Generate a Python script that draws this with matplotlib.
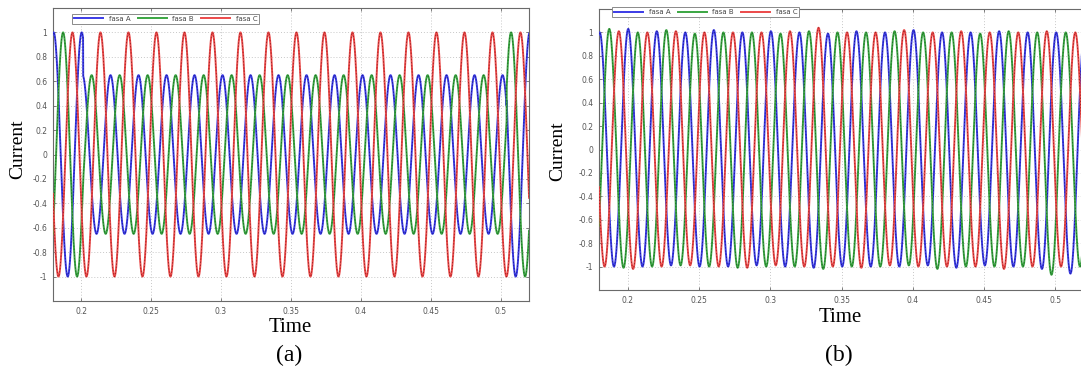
"""Three-phase currents: (a) with fault between 0.2 s and 0.5 s, (b) balanced."""

import numpy as np
import matplotlib.pyplot as plt

# --- data ---
FREQ = 50.0                      # Hz, one cycle = 0.02 s
PHASES = ["A", "B", "C"]
LABELS = ["fasa A", "fasa B", "fasa C"]

# (a): piecewise sinusoid per phase -> segment edges, amplitude and time of a peak
a_edges = [0.175, 0.2015, 0.504, 0.525]
a_amp = {"A": [1.0, 0.65, 1.0], "B": [1.0, 0.65, 1.0], "C": [1.0, 1.0, 1.0]}
a_peak = {"A": [0.1805, 0.2211, 0.1805],
          "B": [0.1872, 0.2076, 0.1872],
          "C": [0.1939, 0.1939, 0.1939]}

# (b): balanced currents, height of each half-cycle lobe (alternating sign)
b_first_lobe = {"A": 0.1805, "B": 0.1772, "C": 0.1739}   # centre of first lobe
b_first_sign = {"A": 1, "B": -1, "C": 1}
b_lobes = {
    "A": [1.00, 1.00, 1.03, 1.00, 1.01, 0.99, 1.00, 1.00, 1.02, 1.00,
          1.00, 0.99, 1.01, 1.00, 1.00, 1.01, 0.99, 1.00, 1.01, 1.00,
          1.00, 1.00, 1.02, 0.99, 1.00, 1.01, 1.00, 0.99, 1.01, 1.00,
          1.00, 1.02, 1.00, 1.06, 1.00],
    "B": [1.00, 1.03, 1.01, 1.00, 1.00, 1.02, 0.99, 0.99, 1.00, 1.00,
          1.01, 1.00, 1.00, 0.99, 1.00, 1.01, 1.02, 1.00, 1.00, 1.00,
          1.00, 1.01, 0.99, 1.00, 1.02, 1.00, 1.00, 0.99, 1.00, 1.01,
          1.00, 1.00, 1.07, 1.00, 1.00, 1.00],
    "C": [1.00, 1.00, 1.01, 1.02, 1.00, 1.00, 1.01, 0.99, 1.00, 1.00,
          1.00, 1.01, 1.00, 0.99, 1.01, 1.00, 1.04, 1.00, 1.00, 1.01,
          1.00, 0.99, 1.02, 1.00, 1.00, 1.00, 1.01, 1.00, 1.00, 1.02,
          1.00, 1.00, 1.01, 1.00, 1.00, 1.00],
}

x_ticks = [0.2, 0.25, 0.3, 0.35, 0.4, 0.45, 0.5]
y_ticks = [-1, -0.8, -0.6, -0.4, -0.2, 0, 0.2, 0.4, 0.6, 0.8, 1]

# --- style ---
COLORS = {"A": "#3b3be6", "B": "#3aa642", "C": "#ec4a4a"}
DARK = {"A": "#16167a", "B": "#1b5a1f", "C": "#8a1c1c"}
GRID = "#c8c8c8"
SPINE = "#6a6a6a"
TICK_TXT = "#555555"
SERIF = ["Liberation Serif", "DejaVu Serif"]

w = 2 * np.pi * FREQ
t = np.linspace(0.176, 0.524, 6000)


def wave_a(ph):
    y = np.zeros_like(t)
    for i in range(len(a_edges) - 1):
        m = (t >= a_edges[i]) & (t < a_edges[i + 1])
        y[m] = a_amp[ph][i] * np.cos(w * (t[m] - a_peak[ph][i]))
    return y


def wave_b(ph):
    half = 0.5 / FREQ
    k = np.floor((t - b_first_lobe[ph] + half / 2) / half).astype(int)
    k = np.clip(k, 0, len(b_lobes[ph]) - 1)
    amps = np.array(b_lobes[ph])[k]
    return np.cos(w * (t - b_first_lobe[ph])) * b_first_sign[ph] * amps


def style_axes(ax):
    ax.set_xlim(0.18, 0.52)
    ax.set_ylim(-1.2, 1.2)
    ax.set_xticks(x_ticks)
    ax.set_yticks(y_ticks)
    ax.set_xticklabels(["%g" % v for v in x_ticks])
    ax.set_yticklabels(["%g" % v for v in y_ticks])
    ax.tick_params(direction="in", length=2.5, width=0.6, colors=SPINE,
                   labelcolor=TICK_TXT, labelsize=5.5, top=True, right=True,
                   pad=4)
    ax.grid(True, color=GRID, linestyle=(0, (1, 2)), linewidth=0.7)
    for s in ax.spines.values():
        s.set_color(SPINE)
        s.set_linewidth(0.8)


def draw(ax, fn):
    handles = []
    for ph, lab in zip(PHASES, LABELS):
        y = fn(ph)
        h, = ax.plot(t, y, color=COLORS[ph], lw=1.4, label=lab, zorder=3)
        ax.plot(t, y, color=DARK[ph], lw=0.5, dashes=(2.0, 2.5), zorder=3)
        handles.append(h)
    return handles


fig = plt.figure(figsize=(10.81, 3.71), dpi=100)
W, H = 1081.0, 371.0
ax_a = fig.add_axes([53 / W, 70 / H, 476 / W, 293 / H])
ax_b = fig.add_axes([599 / W, 81 / H, 485 / W, 281 / H])

for ax, fn, anchor in [(ax_a, wave_a, (0.033, 0.993)), (ax_b, wave_b, (0.02, 1.02))]:
    hs = draw(ax, fn)
    style_axes(ax)
    leg = ax.legend(handles=hs, loc="upper left", bbox_to_anchor=anchor,
                    ncol=3, fontsize=5, handlelength=4.2, handletextpad=0.8,
                    columnspacing=1.0, borderpad=0.3, fancybox=False,
                    framealpha=1, edgecolor="#8a8a8a")
    leg.get_frame().set_linewidth(0.7)
    for txt in leg.get_texts():
        txt.set_color("#444444")
    leg.set_zorder(5)

# axis labels and panel captions
fig.text(18 / W, 1 - 149 / H, "Current", rotation=90, ha="center", va="center",
         fontsize=14, family=SERIF)
fig.text(558 / W, 1 - 151 / H, "Current", rotation=90, ha="center", va="center",
         fontsize=14, family=SERIF)
fig.text(290 / W, 1 - 327 / H, "Time", ha="center", va="center",
         fontsize=15, family=SERIF)
fig.text(840 / W, 1 - 318 / H, "Time", ha="center", va="center",
         fontsize=15, family=SERIF)
fig.text(289 / W, 1 - 355 / H, "(a)", ha="center", va="center",
         fontsize=17, family=SERIF)
fig.text(839 / W, 1 - 355 / H, "(b)", ha="center", va="center",
         fontsize=17, family=SERIF)

plt.savefig("out.png", dpi=100, facecolor="white")
